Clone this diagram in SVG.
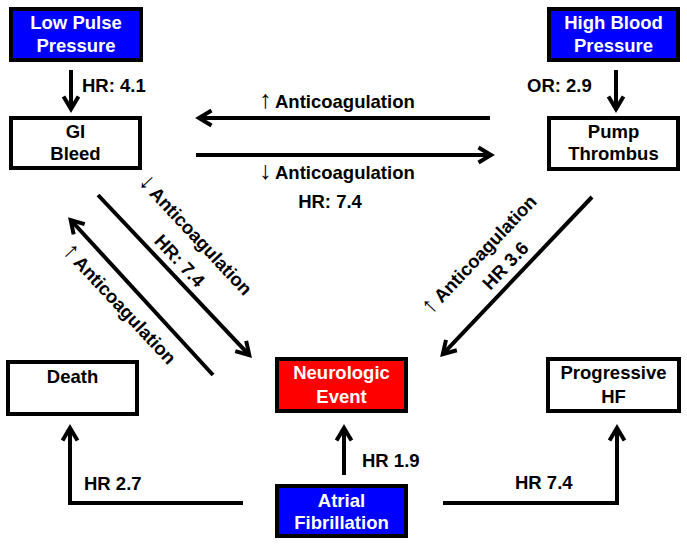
<svg xmlns="http://www.w3.org/2000/svg" width="687" height="544" viewBox="0 0 687 544">
<style>
text{font-family:"Liberation Sans",Arial,sans-serif;font-weight:bold;font-size:18.5px;fill:#000}
.c{text-anchor:middle}
.w{fill:#fff}
.box{stroke:#000;stroke-width:4}
.blue{fill:#0000ff}
.red{fill:#ff0000}
.white{fill:#fff}
.ln{fill:none;stroke:#000;stroke-width:4;stroke-linejoin:miter;marker-end:url(#ah)}
.ar{font-weight:normal;font-size:25px}
</style>
<defs>
<marker id="ah" markerUnits="userSpaceOnUse" markerWidth="40" markerHeight="40" viewBox="-20 -20 40 40" refX="0" refY="0" orient="auto" overflow="visible">
<path d="M-12.5,-7.5 L0,0 L-12.5,7.5" fill="none" stroke="#000" stroke-width="4" stroke-linejoin="miter"/>
</marker>
</defs>
<g id="connectors">
<line class="ln" x1="71" y1="70" x2="71" y2="109"/>
<line class="ln" x1="616" y1="70" x2="616" y2="109"/>
<line class="ln" x1="490" y1="118" x2="199" y2="118"/>
<line class="ln" x1="196" y1="155" x2="491" y2="155"/>
<line class="ln" x1="98" y1="195" x2="249.3" y2="355.1"/>
<line class="ln" x1="213" y1="375" x2="70.7" y2="220"/>
<line class="ln" x1="592" y1="197" x2="442.8" y2="354.1"/>
<polyline class="ln" points="243,503 70,503 70,428"/>
<line class="ln" x1="344" y1="475" x2="344" y2="428"/>
<polyline class="ln" points="443,503 617,503 617,428"/>
<text x="82" y="92">HR: 4.1</text>
<text x="527" y="92">OR: 2.9</text>
<text y="108"><tspan class="ar" x="259">↑</tspan><tspan x="275">Anticoagulation</tspan></text>
<text y="179"><tspan class="ar" x="259">↓</tspan><tspan x="275">Anticoagulation</tspan></text>
<text class="c" x="330" y="208">HR: 7.4</text>
<text transform="translate(139,184) rotate(47)"><tspan class="ar" x="-2">↓</tspan><tspan x="14">Anticoagulation</tspan></text>
<text class="c" transform="translate(175,265) rotate(47)">HR: 7.4</text>
<text transform="translate(63,253) rotate(47)"><tspan class="ar" x="-2">↑</tspan><tspan x="14">Anticoagulation</tspan></text>
<text transform="translate(432,314) rotate(-46.5)"><tspan class="ar" x="-2">↑</tspan><tspan x="14">Anticoagulation</tspan></text>
<text class="c" transform="translate(510,270) rotate(-46.5)">HR 3.6</text>
<text x="84" y="490">HR 2.7</text>
<text x="362" y="467">HR 1.9</text>
<text x="515" y="489">HR 7.4</text>
</g>
<g id="low-pulse-pressure">
<rect class="box blue" x="11" y="9" width="130" height="51"/>
<text class="c w" x="76" y="29">Low Pulse</text>
<text class="c w" x="76" y="52">Pressure</text>
</g>
<g id="high-blood-pressure">
<rect class="box blue" x="549" y="9" width="129" height="51"/>
<text class="c w" x="613.5" y="29">High Blood</text>
<text class="c w" x="613.5" y="52">Pressure</text>
</g>
<g id="gi-bleed">
<rect class="box white" x="11" y="118" width="129" height="50"/>
<text class="c" x="75.5" y="138">GI</text>
<text class="c" x="75.5" y="160">Bleed</text>
</g>
<g id="pump-thrombus">
<rect class="box white" x="549" y="118" width="129" height="51"/>
<text class="c" x="613.5" y="138">Pump</text>
<text class="c" x="613.5" y="160">Thrombus</text>
</g>
<g id="death">
<rect class="box white" x="8" y="362" width="129" height="52"/>
<text class="c" x="72.5" y="383">Death</text>
</g>
<g id="neurologic-event">
<rect class="box red" x="277" y="359" width="129" height="52"/>
<text class="c w" x="341.5" y="379">Neurologic</text>
<text class="c w" x="341.5" y="403">Event</text>
</g>
<g id="progressive-hf">
<rect class="box white" x="548" y="359" width="131" height="52"/>
<text class="c" x="613.5" y="379">Progressive</text>
<text class="c" x="613.5" y="403">HF</text>
</g>
<g id="atrial-fibrillation">
<rect class="box blue" x="277" y="486" width="129" height="50"/>
<text class="c w" x="341.5" y="507">Atrial</text>
<text class="c w" x="341.5" y="529">Fibrillation</text>
</g>
</svg>
